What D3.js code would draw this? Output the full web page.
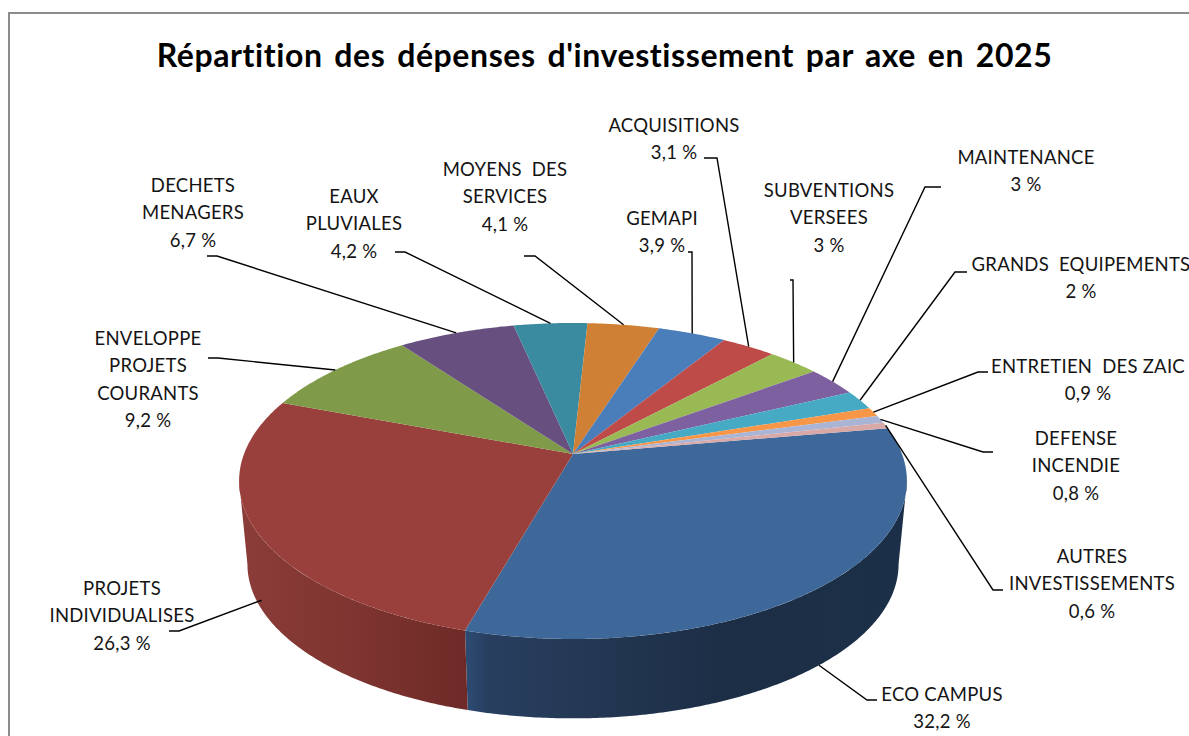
<!DOCTYPE html>
<html><head><meta charset="utf-8">
<script src="https://cdn.jsdelivr.net/npm/d3@7"></script>
<style>
html,body{margin:0;padding:0;background:#fff;overflow:hidden}
svg{display:block}
text{font-family:Lato,"Noto Sans",sans-serif;fill:#141414}
</style></head><body>
<svg id="c" width="1189" height="736"></svg>
<script>
const chartTitle = "Répartition des dépenses d'investissement par axe en 2025";
const categories = ["ECO CAMPUS","PROJETS INDIVIDUALISES","ENVELOPPE PROJETS COURANTS","DECHETS MENAGERS","EAUX PLUVIALES","MOYENS DES SERVICES","GEMAPI","ACQUISITIONS","SUBVENTIONS VERSEES","MAINTENANCE","GRANDS EQUIPEMENTS","ENTRETIEN DES ZAIC","DEFENSE INCENDIE","AUTRES INVESTISSEMENTS"];
const values = [32.2,26.3,9.2,6.7,4.2,4.1,3.9,3.1,3,3,2,0.9,0.8,0.6];
const valueLabels = ["32,2 %","26,3 %","9,2 %","6,7 %","4,2 %","4,1 %","3,9 %","3,1 %","3 %","3 %","2 %","0,9 %","0,8 %","0,6 %"];
const labelLines = [["ECO CAMPUS"],["PROJETS","INDIVIDUALISES"],["ENVELOPPE","PROJETS","COURANTS"],["DECHETS","MENAGERS"],["EAUX","PLUVIALES"],["MOYENS  DES","SERVICES"],["GEMAPI"],["ACQUISITIONS"],["SUBVENTIONS","VERSEES"],["MAINTENANCE"],["GRANDS  EQUIPEMENTS"],["ENTRETIEN  DES ZAIC"],["DEFENSE","INCENDIE"],["AUTRES","INVESTISSEMENTS"]];
const topColors = ["#3E6899","#9A403C","#7F9A48","#67507F","#3B8BA0","#D08035","#4A7EBB","#BE4B48","#98B954","#7D60A0","#46AAC5","#F79646","#AAB5D5","#D9A9A8"];

// layout
const labelCenterX = [942,122,148,193,354,505,662,674,829,1026,1081,1088,1076,1092];
const labelFirstY  = [695,589,339,186,197,170,219,126,191,158,265,367,439,557];
const lineStep = 27.4;
const elbows = [[[877,700],[867,700]],[[169,631],[179,631]],[[208,358],[218,358]],[[207,256],[217,256]],[[395,252],[405,252]],[[524,256],[535,256]],[[688,252],[692,252]],[[704,158],[717,158]],[[790,280],[793,280]],[[941,187],[925,187]],[[967,272],[955,272]],[[988,372],[978,372]],[[993,452],[983,452]],[[1003,590],[993,590]]];
const wallOffset = [1,0.87,0,0,0,0,0,0,0,0,0,0,0,0];

const cx=573, cy=454, f=329, g=153.4, p=0.1708;
const depthScale=0.975, cyBottom=538;
function project(a,r,bottom){
  const x=r*Math.sin(a), z=r*Math.cos(a), w=1+p*z, s=bottom?depthScale:1;
  return [cx+s*f*x/w, (bottom?cyBottom:cy)-s*g*z/w];
}
const deg=Math.PI/180;
const start=80*deg;
const arcs=d3.pie().sort(null).startAngle(start).endAngle(start+2*Math.PI)(values);
const line=d3.line().curve(d3.curveLinear);
function rim(a0,a1,bottom){
  const n=Math.max(2,Math.ceil((a1-a0)/(0.5*deg)));
  return d3.range(n+1).map(i=>project(a0+(a1-a0)*i/n,1,bottom));
}
const svg=d3.select("#c");
const defs=svg.append("defs");
function grad(id,x1,x2,stops){
  const l=defs.append("linearGradient").attr("id",id).attr("gradientUnits","userSpaceOnUse").attr("x1",x1).attr("x2",x2).attr("y1",0).attr("y2",0);
  stops.forEach(s=>l.append("stop").attr("offset",s[0]).attr("stop-color",s[1]));
}
grad("w0",465,900,[[0,"#2D4C74"],[0.05,"#283F60"],[0.25,"#253955"],[0.6,"#1C2E46"],[1,"#1B3048"]]);
grad("w1",245,467,[[0,"#8A3C38"],[0.5,"#7E3430"],[1,"#6E2A27"]]);

svg.append("rect").attr("x",9).attr("y",13).attr("width",1190).attr("height",740).attr("fill","#fff").attr("stroke","#8c8c8c").attr("stroke-width",2);

svg.append("text").attr("x",604.5).attr("y",67).attr("text-anchor","middle")
  .attr("font-size",32).attr("font-weight",700).style("fill","#000").attr("letter-spacing",0.6).attr("word-spacing",3.3).text(chartTitle);

// walls
const tanR=Math.PI-Math.acos(p), tanL=Math.PI+Math.acos(p);
const wallArcs=[[tanR,arcs[0].endAngle,"url(#w0)"],[arcs[1].startAngle,tanL,"url(#w1)"]];
svg.append("g").selectAll("path").data(wallArcs).join("path")
  .attr("d",d=>line(rim(d[0],d[1],false).concat(rim(d[0],d[1],true).reverse()))+"Z")
  .attr("fill",d=>d[2]);

// top
svg.append("g").selectAll("path").data(arcs).join("path")
  .attr("d",d=>line([[cx,cy]].concat(rim(d.startAngle,d.endAngle,false)))+"Z")
  .attr("fill",(d,i)=>topColors[i]);

// leaders
svg.append("g").selectAll("path").data(arcs).join("path")
  .attr("d",(d,i)=>{
    const m=(d.startAngle+d.endAngle)/2, a=project(m,1,false), b=project(m,1,true), t=wallOffset[i];
    return line([...elbows[i],[a[0]+(b[0]-a[0])*t,a[1]+(b[1]-a[1])*t]]);
  }).attr("fill","none").attr("stroke","#000").attr("stroke-width",1.4);

// labels
const lab=svg.append("g").selectAll("text").data(categories).join("text")
  .attr("text-anchor","middle").attr("font-size",18.5).attr("letter-spacing",0.25);
lab.each(function(d,i){
  const lines=labelLines[i].concat([valueLabels[i]]);
  d3.select(this).selectAll("tspan").data(lines).join("tspan")
    .attr("x",labelCenterX[i]).attr("y",(l,k)=>labelFirstY[i]+6+k*lineStep)
    .style("white-space","pre").text(l=>l);
});
</script></body></html>
